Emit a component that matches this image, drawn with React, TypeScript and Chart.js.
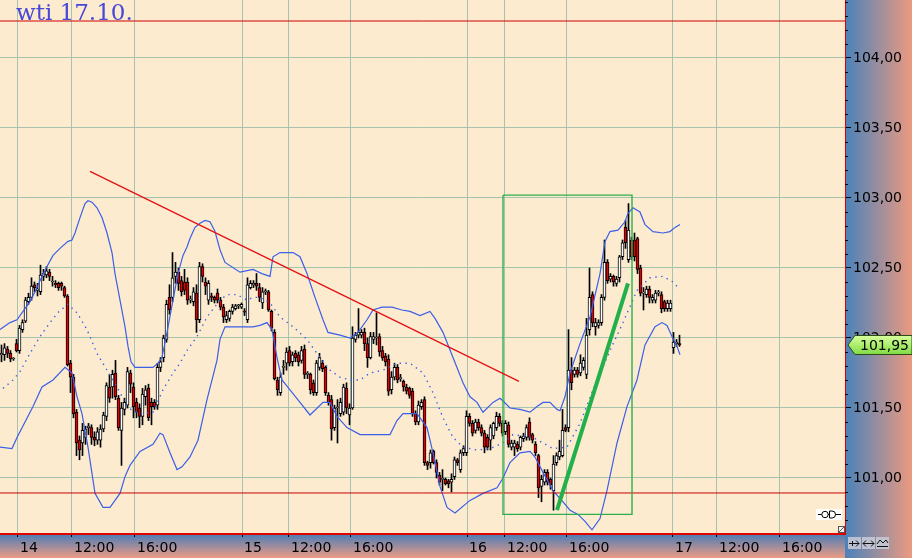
import React, { useEffect, useRef } from 'react';
import { Chart, registerables } from 'chart.js';

Chart.register(...registerables);

// [open, high, low, close] — one candle per slot
const candles: [number, number, number, number][] = [
  [101.88,101.95,101.83,101.89],[101.88,101.96,101.84,101.93],[101.92,101.94,101.86,101.89],[101.89,101.91,101.83,101.85],
  [101.85,101.86,101.84,101.851],[101.96,101.99,101.90,101.91],[101.91,102.09,101.89,102.07],[102.06,102.13,102.04,102.11],
  [102.12,102.29,102.11,102.27],[102.26,102.32,102.24,102.29],[102.29,102.43,102.27,102.37],[102.38,102.40,102.33,102.36],
  [102.34,102.39,102.30,102.35],[102.33,102.52,102.31,102.45],[102.44,102.49,102.41,102.46],[102.45,102.51,102.43,102.48],
  [102.47,102.49,102.41,102.44],[102.40,102.44,102.37,102.405],[102.39,102.41,102.36,102.38],[102.39,102.40,102.34,102.36],
  [102.39,102.40,102.34,102.37],[102.36,102.37,102.29,102.30],[102.30,102.31,101.80,101.81],[101.82,101.84,101.61,101.72],
  [101.72,101.74,101.43,101.46],[101.47,101.49,101.16,101.25],[101.27,101.30,101.13,101.20],[101.25,101.39,101.16,101.34],
  [101.29,101.37,101.24,101.35],[101.36,101.39,101.31,101.37],[101.36,101.38,101.24,101.29],[101.29,101.33,101.23,101.27],
  [101.27,101.36,101.24,101.33],[101.27,101.38,101.22,101.35],[101.35,101.47,101.33,101.45],[101.44,101.68,101.41,101.66],
  [101.65,101.74,101.54,101.57],[101.65,101.77,101.57,101.74],[101.75,101.84,101.56,101.58],[101.57,101.59,101.34,101.36],
  // day 14 afternoon
  [101.34,101.54,101.09,101.50],[101.49,101.57,101.45,101.54],[101.52,101.79,101.50,101.76],[101.75,101.77,101.61,101.67],
  [101.65,101.68,101.43,101.51],[101.54,101.57,101.43,101.47],[101.50,101.53,101.36,101.44],[101.44,101.64,101.38,101.60],
  [101.58,101.66,101.52,101.63],[101.64,101.67,101.41,101.43],[101.54,101.57,101.38,101.51],[101.54,101.56,101.49,101.51],
  [101.52,101.82,101.49,101.79],[101.79,101.86,101.76,101.83],[101.86,102.02,101.83,102.00],[101.99,102.27,101.97,102.24],
  [102.29,102.38,102.17,102.20],[102.29,102.61,102.26,102.43],[102.44,102.54,102.39,102.47],[102.47,102.50,102.34,102.39],
  [102.41,102.44,102.30,102.33],[102.40,102.49,102.31,102.34],[102.40,102.43,102.24,102.27],[102.27,102.30,102.25,102.275],
  [102.26,102.36,102.23,102.33],[102.32,102.38,102.04,102.13],[102.13,102.54,102.11,102.51],[102.51,102.53,102.40,102.44],
  [102.40,102.43,102.31,102.37],[102.27,102.41,102.24,102.39],[102.30,102.32,102.26,102.29],[102.29,102.30,102.25,102.27],
  [102.32,102.35,102.25,102.27],[102.27,102.29,102.20,102.22],[102.22,102.24,102.11,102.15],[102.13,102.19,102.11,102.16],
  [102.14,102.20,102.12,102.19],[102.19,102.24,102.17,102.22],[102.21,102.24,102.20,102.23],[102.23,102.24,102.21,102.235],
  [102.22,102.25,102.21,102.24],[102.19,102.21,102.16,102.185],[102.13,102.43,102.11,102.38],[102.36,102.41,102.35,102.39],
  [102.38,102.41,102.36,102.39],[102.39,102.46,102.34,102.37],[102.36,102.39,102.26,102.29],[102.25,102.36,102.21,102.33],
  [102.33,102.35,102.31,102.335],[102.33,102.34,102.19,102.20],[102.19,102.20,102.05,102.07],[102.04,102.06,101.70,101.71],
  [101.70,101.72,101.59,101.63],[101.61,101.75,101.59,101.72],[101.79,101.84,101.74,101.795],[101.82,101.93,101.77,101.90],
  [101.91,101.94,101.80,101.82],[101.83,101.90,101.80,101.88],[101.89,101.91,101.83,101.86],[101.88,101.90,101.80,101.83],
  [101.84,101.94,101.82,101.91],[101.92,101.95,101.71,101.74],[101.74,101.76,101.71,101.745],[101.74,101.75,101.60,101.63],
  [101.68,101.70,101.59,101.61],[101.61,101.84,101.59,101.82],[101.79,101.89,101.77,101.86],
  // day 15 afternoon
  [101.82,101.84,101.76,101.78],[101.79,101.80,101.59,101.61],[101.59,101.61,101.52,101.54],[101.56,101.59,101.27,101.35],
  [101.36,101.52,101.34,101.50],[101.50,101.56,101.25,101.505],[101.46,101.57,101.44,101.54],[101.47,101.67,101.45,101.65],
  [101.64,101.68,101.46,101.50],[101.45,101.53,101.38,101.50],[101.50,102.08,101.49,102.00],[101.99,102.04,101.97,102.02],
  [102.02,102.21,102.00,102.04],[102.02,102.06,102.00,102.04],[102.04,102.07,101.91,101.96],[101.96,102.00,101.79,101.86],
  [101.86,102.04,101.85,102.01],[101.99,102.04,101.96,102.01],[102.00,102.18,101.95,102.005],[102.01,102.03,101.87,101.90],
  [101.91,101.94,101.84,101.86],[101.87,101.89,101.80,101.83],[101.85,101.88,101.59,101.62],[101.63,101.76,101.60,101.72],
  [101.72,101.82,101.70,101.79],[101.79,101.81,101.68,101.70],[101.71,101.74,101.69,101.715],[101.69,101.70,101.62,101.65],
  [101.65,101.67,101.60,101.62],[101.64,101.65,101.57,101.59],[101.62,101.64,101.44,101.46],[101.46,101.48,101.38,101.40],
  [101.40,101.55,101.38,101.52],[101.51,101.56,101.49,101.54],[101.56,101.58,101.09,101.11],[101.11,101.12,101.06,101.09],
  [101.11,101.20,101.07,101.18],[101.19,101.20,101.10,101.11],[101.11,101.13,101.00,101.04],[101.02,101.04,100.95,100.97],
  [100.99,101.06,100.91,100.995],[100.99,101.00,100.95,100.96],[100.98,100.99,100.93,100.96],[100.97,101.03,100.90,100.99],
  [101.01,101.15,100.99,101.13],[101.13,101.14,101.09,101.11],[101.06,101.20,101.04,101.18],[101.18,101.23,101.16,101.21],
  [101.18,101.48,101.16,101.44],[101.44,101.46,101.37,101.39],[101.39,101.41,101.30,101.32],[101.34,101.42,101.32,101.40],
  [101.40,101.42,101.34,101.36],[101.36,101.38,101.30,101.32],[101.32,101.34,101.18,101.22],[101.29,101.31,101.20,101.22],
  [101.27,101.38,101.20,101.36],[101.30,101.40,101.28,101.39],[101.36,101.47,101.34,101.44],[101.44,101.46,101.37,101.39],
  [101.39,101.41,101.30,101.32],[101.33,101.41,101.31,101.39],[101.38,101.40,101.22,101.24],
  // day 16 midday onwards
  [101.22,101.27,101.20,101.25],[101.22,101.27,101.16,101.25],[101.24,101.26,101.19,101.21],[101.22,101.30,101.20,101.29],
  [101.28,101.32,101.26,101.30],[101.29,101.38,101.27,101.36],[101.40,101.43,101.27,101.29],[101.31,101.32,101.25,101.27],
  [101.24,101.26,101.16,101.18],[101.16,101.17,100.86,100.93],[100.94,101.02,100.83,100.99],[100.97,101.06,100.95,101.04],
  [101.04,101.06,100.95,100.97],[100.99,101.00,100.92,100.95],[100.91,101.16,100.77,101.10],[101.11,101.18,101.09,101.16],
  [101.15,101.27,101.13,101.19],[101.16,101.49,101.15,101.34],[101.36,101.38,101.33,101.34],[101.36,102.06,101.33,101.77],
  [101.77,101.86,101.63,101.68],[101.74,101.79,101.72,101.77],[101.77,101.79,101.72,101.74],[101.75,101.88,101.73,101.82],
  [101.79,101.86,101.77,101.84],[101.74,102.14,101.71,102.02],[102.06,102.50,102.02,102.29],[102.31,102.33,102.08,102.11],
  [102.08,102.14,102.02,102.11],[102.09,102.13,102.07,102.11],[102.11,102.31,102.09,102.29],[102.29,102.70,102.27,102.54],
  [102.54,102.56,102.39,102.41],[102.42,102.46,102.40,102.44],[102.44,102.45,102.37,102.40],[102.39,102.44,102.37,102.42],
  [102.43,102.59,102.40,102.58],[102.58,102.70,102.56,102.68],[102.79,102.84,102.64,102.68],[102.56,102.96,102.54,102.77],
  [102.70,102.72,102.56,102.58],[102.70,102.75,102.55,102.58],[102.71,102.72,102.46,102.49],[102.50,102.52,102.30,102.32],
  [102.32,102.36,102.20,102.325],[102.31,102.37,102.29,102.35],[102.35,102.37,102.25,102.29],[102.27,102.31,102.25,102.29],
  [102.27,102.34,102.25,102.32],[102.32,102.34,102.30,102.325],[102.31,102.33,102.18,102.21],[102.26,102.27,102.19,102.21],
  [102.21,102.27,102.19,102.25],[102.21,102.27,102.19,102.25],
  // day 17
  [101.93,102.04,101.89,101.97],[101.96,101.99,101.94,101.97],[101.96,102.02,101.94,101.95],
];

// Bollinger bands: [slot, price]
const bbUpper: [number, number][] = [
  [-0.5,102.06],[2.83,102.11],[5.17,102.13],[7.17,102.19],[9.5,102.26],[11.17,102.33],[13.5,102.44],[15.17,102.51],
  [17.17,102.59],[19.5,102.64],[22.17,102.69],[23.5,102.7],[24.5,102.75],[26.17,102.86],[27.83,102.96],[28.83,102.98],
  [30.17,102.97],[31.83,102.93],[33.5,102.86],[35.17,102.75],[36.83,102.61],[37.83,102.46],[39.5,102.27],[41.17,102.08],
  [42.17,101.94],[43.17,101.83],[44.5,101.79],[46.17,101.79],[50.5,101.79],[52.17,101.82],[53.5,101.86],[55.17,102.04],
  [57.17,102.27],[58.83,102.46],[60.5,102.59],[61.83,102.65],[62.83,102.71],[64.5,102.79],[66.17,102.82],[67.83,102.84],
  [69.5,102.83],[71.17,102.76],[72.83,102.63],[74.5,102.54],[79.5,102.47],[83.83,102.49],[86.83,102.46],[89.5,102.44],
  [90.5,102.58],[92.83,102.61],[97.17,102.61],[99.5,102.58],[101.83,102.46],[104.5,102.29],[107.17,102.13],[108.83,102.04],
  [112.83,102.02],[116.17,102.0],[118.83,102.04],[121.83,102.13],[123.83,102.2],[126.83,102.22],[130.17,102.22],[133.5,102.2],
  [136.17,102.19],[139.5,102.16],[142.83,102.19],[144.5,102.14],[147.17,102.04],[150.5,101.86],[153.83,101.68],[156.17,101.58],
  [158.5,101.54],[160.5,101.47],[163.83,101.54],[166.17,101.57],[167.17,101.55],[169.5,101.5],[172.83,101.49],[176.17,101.47],
  [178.5,101.51],[180.5,101.54],[182.83,101.54],[185.17,101.49],[186.17,101.48],[187.83,101.58],[189.5,101.75],[192.83,101.96],
  [196.17,102.15],[199.5,102.46],[201.17,102.69],[202.83,102.76],[205.5,102.77],[207.83,102.83],[208.83,102.89],[210.5,102.93],
  [212.83,102.9],[214.5,102.81],[217.17,102.76],[220.5,102.75],[222.83,102.76],[224.5,102.79],[226.17,102.81],
];

const bbMiddle: [number, number][] = [
  [0.5,101.64],[3.83,101.7],[6.17,101.76],[9.5,101.89],[12.83,102.01],[16.17,102.11],[19.17,102.19],[22.17,102.24],
  [25.17,102.18],[28.5,102.06],[31.83,101.89],[35.17,101.77],[38.5,101.65],[42.17,101.5],[46.17,101.46],[50.5,101.47],
  [53.83,101.63],[57.17,101.75],[59.5,101.82],[61.83,101.91],[65.17,102.01],[68.5,102.15],[72.83,102.27],[75.17,102.31],
  [78.5,102.31],[81.83,102.27],[83.83,102.29],[86.17,102.29],[89.5,102.25],[92.83,102.15],[97.17,102.08],[101.83,101.99],
  [105.17,101.89],[109.5,101.77],[112.83,101.72],[116.17,101.7],[119.5,101.7],[122.83,101.75],[127.17,101.77],[131.83,101.82],
  [136.17,101.82],[140.5,101.75],[143.83,101.61],[147.17,101.43],[150.5,101.29],[153.83,101.22],[158.5,101.2],[162.83,101.21],
  [167.17,101.25],[170.5,101.31],[177.17,101.29],[183.83,101.21],[188.5,101.22],[192.83,101.39],[197.17,101.63],[202.83,101.91],
  [207.17,102.11],[211.83,102.34],[216.17,102.43],[220.5,102.44],[223.83,102.4],[225.5,102.36],
];

const bbLower: [number, number][] = [
  [-0.5,101.22],[3.5,101.21],[5.17,101.29],[10.5,101.51],[13.5,101.65],[17.17,101.7],[21.17,101.79],[23.5,101.75],
  [25.17,101.58],[26.83,101.46],[28.83,101.22],[31.17,100.89],[33.83,100.79],[36.17,100.79],[39.5,100.89],[41.17,101.01],
  [42.83,101.09],[46.17,101.19],[50.5,101.24],[52.83,101.32],[53.83,101.31],[56.17,101.18],[58.5,101.06],[60.17,101.08],
  [62.83,101.15],[65.5,101.27],[68.5,101.56],[71.83,101.84],[72.83,101.99],[74.5,102.08],[78.5,102.08],[83.83,102.08],
  [86.17,102.09],[88.5,102.11],[90.17,102.06],[91.83,101.86],[93.5,101.7],[96.17,101.63],[99.5,101.54],[102.83,101.45],
  [107.17,101.54],[109.5,101.54],[111.83,101.44],[115.17,101.36],[119.5,101.31],[129.5,101.31],[131.83,101.41],[133.83,101.46],
  [138.5,101.46],[141.83,101.36],[143.83,101.18],[146.17,100.94],[148.5,100.79],[151.17,100.75],[156.17,100.84],[160.5,100.89],
  [165.17,100.93],[167.17,101.0],[169.5,101.11],[172.83,101.18],[176.17,101.19],[177.83,101.15],[180.5,101.04],[183.83,100.91],
  [187.17,100.83],[189.5,100.77],[192.17,100.74],[194.5,100.69],[196.83,100.63],[199.5,100.71],[201.83,100.91],[205.17,101.25],
  [208.5,101.51],[211.83,101.7],[214.5,101.95],[217.83,102.08],[220.17,102.11],[221.83,102.09],[223.5,102.01],[225.17,101.94],
  [226.17,101.88],
];

// drawn objects
const trendRed: [number, number][] = [[29.5, 103.19], [172.5, 101.69]];
const trendGreen: [number, number][] = [[185.17, 100.77], [208.83, 102.39]];
const boxGreen: [number, number][] = [[167.17, 103.02], [210.17, 103.02], [210.17, 100.74], [167.17, 100.74], [167.17, 103.02]];
const levelHigh = 104.264;
const levelLow = 100.893;
const lastPrice = 101.95;

const xTickPos = [5.5, 23.5, 44.5, 80.17, 95.83, 116.5, 155.17, 167.83, 188.5, 223.83, 238.5, 259.5];
const xTickLabels = ['14', '12:00', '16:00', '15', '12:00', '16:00', '16', '12:00', '16:00', '17', '12:00', '16:00'];
const yMajorTicks = [101.0, 101.5, 102.0, 102.5, 103.0, 103.5, 104.0];
const titleText = 'wti 17.10.';

const X_MIN = -0.5;
const X_MAX = 281.1667;
const Y_MIN = 100.6;
const Y_MAX = 104.414;

const fmt = (v: number) => v.toFixed(2).replace('.', ',');

const decor = {
  id: 'decor',
  beforeDraw(chart: any) {
    const { ctx, chartArea: a, width, height } = chart;
    ctx.save();
    const g1 = ctx.createLinearGradient(a.right, 0, width, 0);
    g1.addColorStop(0, '#4a82ba');
    g1.addColorStop(1, '#ec9a80');
    ctx.fillStyle = g1;
    ctx.fillRect(a.right, 0, width - a.right, height);
    const g2 = ctx.createLinearGradient(0, a.bottom, 0, height);
    g2.addColorStop(0, '#4b7cb6');
    g2.addColorStop(1, '#ec9c84');
    ctx.fillStyle = g2;
    ctx.fillRect(0, a.bottom, a.right, height - a.bottom);
    ctx.fillStyle = '#fdebd0';
    ctx.fillRect(a.left, a.top, a.right - a.left, a.bottom - a.top);
    ctx.restore();
  },
  afterDraw(chart: any) {
    const { ctx, chartArea: a, width } = chart;
    const ys = chart.scales.y;
    ctx.save();
    // minor price ticks
    ctx.strokeStyle = '#000';
    ctx.lineWidth = 1;
    ctx.beginPath();
    for (let k = Math.round(Y_MIN * 10) + 1; k <= Math.floor(Y_MAX * 10); k++) {
      if (k % 5 === 0) continue;
      const py = Math.round(ys.getPixelForValue(k / 10)) + 0.5;
      ctx.moveTo(a.right, py);
      ctx.lineTo(a.right + 3, py);
    }
    ctx.stroke();

    // title
    ctx.font = '23px "DejaVu Serif"';
    ctx.fillStyle = '#4747d8';
    ctx.textBaseline = 'alphabetic';
    ctx.textAlign = 'left';
    ctx.fillText(titleText, 16, 20);

    // last price tag
    const py = ys.getPixelForValue(lastPrice);
    const x0 = a.right + 3;
    ctx.beginPath();
    ctx.moveTo(x0, py);
    ctx.lineTo(x0 + 7, py - 9.5);
    ctx.lineTo(width, py - 9.5);
    ctx.lineTo(width, py + 9.5);
    ctx.lineTo(x0 + 7, py + 9.5);
    ctx.closePath();
    const g = ctx.createLinearGradient(0, py - 9, 0, py + 9);
    g.addColorStop(0, '#d6ff9a');
    g.addColorStop(1, '#82dc44');
    ctx.fillStyle = g;
    ctx.fill();
    ctx.strokeStyle = '#2d4a18';
    ctx.stroke();
    ctx.fillStyle = '#000';
    ctx.font = '14px "DejaVu Sans"';
    ctx.textBaseline = 'middle';
    ctx.fillText(fmt(lastPrice), x0 + 12, py + 1);

    // small plug icon
    ctx.fillStyle = '#ffffff';
    ctx.fillRect(816, 509, 26, 11);
    ctx.strokeStyle = '#000';
    ctx.beginPath();
    ctx.moveTo(818, 514.5); ctx.lineTo(841, 514.5);
    ctx.stroke();
    ctx.fillStyle = '#fff';
    ctx.beginPath();
    ctx.arc(825, 514.5, 3.2, 0, Math.PI * 2);
    ctx.fill(); ctx.stroke();
    ctx.beginPath();
    ctx.moveTo(829.5, 511); ctx.lineTo(832, 511);
    ctx.arc(832, 514.5, 3.5, -Math.PI / 2, Math.PI / 2);
    ctx.lineTo(829.5, 518); ctx.closePath();
    ctx.fill(); ctx.stroke();
    // corner box
    ctx.fillStyle = '#f2f2f2';
    ctx.fillRect(838, 526, 7, 7);
    ctx.strokeStyle = '#555';
    ctx.strokeRect(838.5, 526.5, 6, 6);
    ctx.beginPath(); ctx.moveTo(839, 532); ctx.lineTo(844, 527); ctx.stroke();

    // buttons
    const bx = [848, 862, 876];
    bx.forEach((x, i) => {
      ctx.fillStyle = 'rgba(196,200,214,0.9)';
      ctx.fillRect(x, 537, 13, 12);
      ctx.strokeStyle = '#111';
      ctx.lineWidth = 1;
      ctx.beginPath();
      if (i === 0) {
        ctx.moveTo(x + 1, 543.5); ctx.lineTo(x + 11, 543.5);
        ctx.moveTo(x + 8, 540.5); ctx.lineTo(x + 11, 543.5); ctx.lineTo(x + 8, 546.5);
        ctx.moveTo(x + 4.5, 541); ctx.lineTo(x + 4.5, 546);
      } else if (i === 1) {
        ctx.moveTo(x + 1, 543.5); ctx.lineTo(x + 12, 543.5);
        ctx.moveTo(x + 4, 540.5); ctx.lineTo(x + 1, 543.5); ctx.lineTo(x + 4, 546.5);
        ctx.moveTo(x + 9, 540.5); ctx.lineTo(x + 12, 543.5); ctx.lineTo(x + 9, 546.5);
      } else {
        ctx.moveTo(x + 1, 544); ctx.lineTo(x + 4, 540); ctx.lineTo(x + 7, 543); ctx.lineTo(x + 10, 540); ctx.lineTo(x + 12, 543);
        ctx.moveTo(x + 1, 546.5); ctx.lineTo(x + 12, 546.5);
      }
      ctx.stroke();
    });
    ctx.restore();
  },
};

export default function App() {
  const ref = useRef<HTMLCanvasElement | null>(null);

  useEffect(() => {
    const canvas = ref.current;
    if (!canvas) return;
    const toXY = (arr: [number, number][]) => arr.map(([x, y]) => ({ x, y }));
    const wickData = candles.map((c, i) => ({ x: i, y: [c[2], c[1]] }));
    const bodyData = candles.map((c, i) => ({ x: i, y: [c[0], c[3]] }));
    const bodyColors = candles.map((c) => (c[3] >= c[0] ? '#ffffff' : '#e00000'));
    const band = '#3a5fe8';
    const tickFont = { family: 'DejaVu Sans', size: 14 };

    const chart = new Chart(canvas, {
      type: 'bar',
      data: {
        datasets: [
          { type: 'line', data: toXY(trendGreen) as any, borderColor: '#22b04a', borderWidth: 4, pointRadius: 0, order: 1 },
          { type: 'line', data: toXY(trendRed) as any, borderColor: '#e41010', borderWidth: 1.2, pointRadius: 0, order: 1 },
          { type: 'line', data: toXY(boxGreen) as any, borderColor: '#2cb04c', borderWidth: 1.4, pointRadius: 0, order: 2 },
          { type: 'line', data: [{ x: X_MIN, y: levelHigh }, { x: X_MAX, y: levelHigh }] as any, borderColor: '#cc0000', borderWidth: 1, pointRadius: 0, order: 2 },
          { type: 'line', data: [{ x: X_MIN, y: levelLow }, { x: X_MAX, y: levelLow }] as any, borderColor: '#cc0000', borderWidth: 1, pointRadius: 0, order: 2 },
          { type: 'line', data: toXY(bbUpper) as any, borderColor: band, borderWidth: 1.2, pointRadius: 0, order: 3 },
          { type: 'line', data: toXY(bbLower) as any, borderColor: band, borderWidth: 1.2, pointRadius: 0, order: 3 },
          { type: 'line', data: toXY(bbMiddle) as any, borderColor: band, borderWidth: 1.4, borderDash: [1.4, 4.5], pointRadius: 0, order: 3 },
          {
            type: 'bar', data: bodyData as any, backgroundColor: bodyColors, borderColor: '#000', borderWidth: 1,
            borderSkipped: false, barThickness: 3, grouped: false, minBarLength: 1, order: 4,
          } as any,
          { type: 'bar', data: wickData as any, backgroundColor: '#000', borderWidth: 0, barThickness: 1, grouped: false, order: 5 } as any,
        ],
      },
      options: {
        responsive: false,
        animation: false,
        devicePixelRatio: 1,
        events: [],
        layout: { padding: 0 },
        plugins: { legend: { display: false }, tooltip: { enabled: false }, title: { display: false } },
        scales: {
          x: {
            type: 'linear',
            min: X_MIN,
            max: X_MAX,
            offset: false,
            position: 'bottom',
            grid: { color: '#a6c4ad', lineWidth: 1, offset: false, drawTicks: true, tickLength: 3, tickColor: '#000' },
            border: { display: true, color: '#e00000', width: 2 },
            ticks: {
              autoSkip: false, maxRotation: 0, minRotation: 0, align: 'start', labelOffset: 2, padding: 3,
              color: '#000', font: tickFont,
              callback: (_v: any, i: number) => xTickLabels[i],
            },
            afterBuildTicks: (s: any) => { s.ticks = xTickPos.map((v) => ({ value: v })); },
            afterFit: (s: any) => { s.height = 24; s.paddingLeft = 0; s.paddingRight = 0; },
          } as any,
          y: {
            type: 'linear',
            position: 'right',
            min: Y_MIN,
            max: Y_MAX,
            beginAtZero: false,
            bounds: 'data',
            grid: { color: '#a6c4ad', lineWidth: 1, drawTicks: true, tickLength: 6, tickColor: '#000' },
            border: { display: true, color: '#e00000', width: 1 },
            ticks: {
              autoSkip: false, padding: 2, color: '#000', font: tickFont,
              callback: (v: any) => fmt(Number(v)),
            },
            afterBuildTicks: (s: any) => { s.ticks = yMajorTicks.map((v) => ({ value: v })); },
            afterFit: (s: any) => { s.width = 67; s.paddingTop = 0; s.paddingBottom = 0; },
          } as any,
        },
      } as any,
      plugins: [decor],
    });
    return () => chart.destroy();
  }, []);

  return (
    <div style={{ position: 'fixed', left: 0, top: 0, width: 912, height: 558 }}>
      <canvas ref={ref} width={912} height={558} style={{ display: 'block', width: 912, height: 558 }} />
    </div>
  );
}
